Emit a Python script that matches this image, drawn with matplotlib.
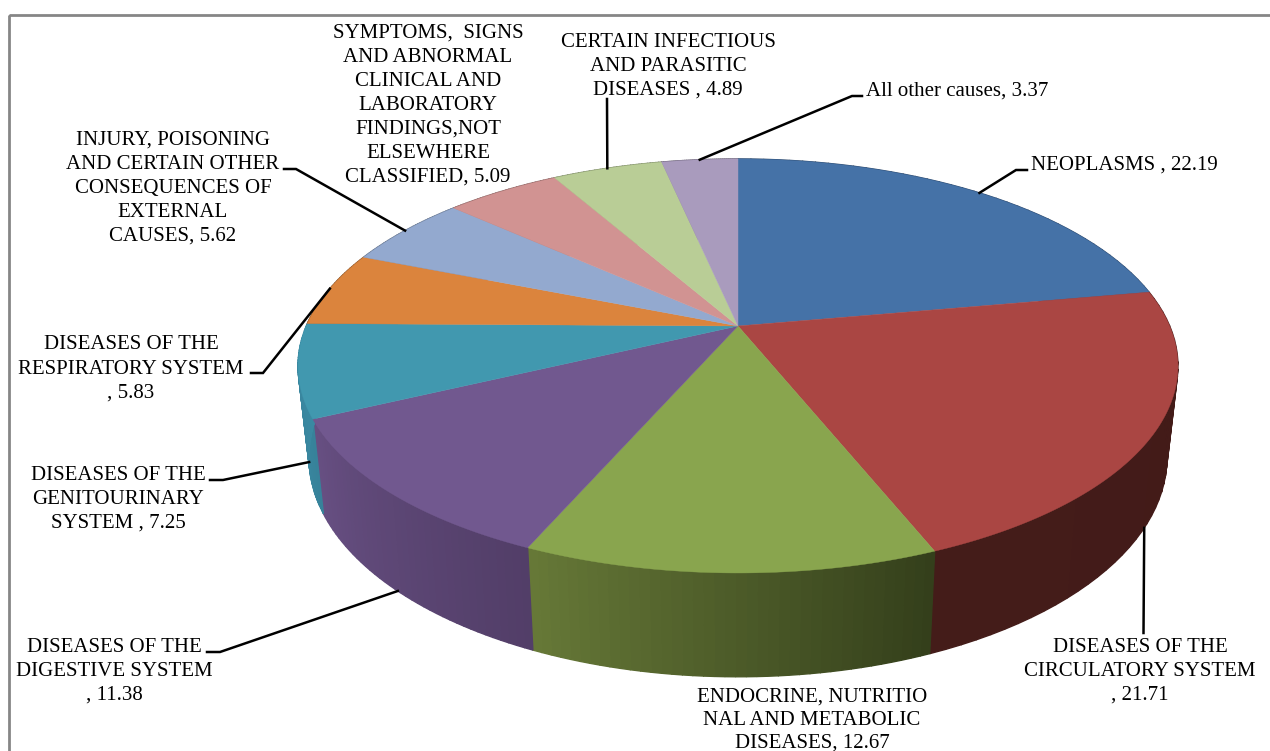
import numpy as np
import matplotlib
matplotlib.use('Agg')
import matplotlib.pyplot as plt
from matplotlib.colors import to_rgb
from matplotlib.patches import Polygon, Rectangle

# clockwise from 12 o'clock
categories = ['NEOPLASMS', 'DISEASES OF THE CIRCULATORY SYSTEM',
              'ENDOCRINE, NUTRITIONAL AND METABOLIC DISEASES',
              'DISEASES OF THE DIGESTIVE SYSTEM', 'DISEASES OF THE GENITOURINARY SYSTEM',
              'DISEASES OF THE RESPIRATORY SYSTEM',
              'INJURY, POISONING AND CERTAIN OTHER CONSEQUENCES OF EXTERNAL CAUSES',
              'SYMPTOMS, SIGNS AND ABNORMAL CLINICAL AND LABORATORY FINDINGS,NOT ELSEWHERE CLASSIFIED',
              'CERTAIN INFECTIOUS AND PARASITIC DISEASES', 'All other causes']
values = [22.19, 21.71, 12.67, 11.38, 7.25, 5.83, 5.62, 5.09, 4.89, 3.37]

label_lines = [
    ['NEOPLASMS , 22.19'],
    ['DISEASES OF THE', 'CIRCULATORY SYSTEM', ', 21.71'],
    ['ENDOCRINE, NUTRITIO', 'NAL AND METABOLIC', 'DISEASES, 12.67'],
    ['DISEASES OF THE', 'DIGESTIVE SYSTEM', ', 11.38'],
    ['DISEASES OF THE', 'GENITOURINARY', 'SYSTEM , 7.25'],
    ['DISEASES OF THE', 'RESPIRATORY SYSTEM', ', 5.83'],
    ['INJURY, POISONING', 'AND CERTAIN OTHER', 'CONSEQUENCES OF', 'EXTERNAL', 'CAUSES, 5.62'],
    ['SYMPTOMS,  SIGNS', 'AND ABNORMAL', 'CLINICAL AND', 'LABORATORY', 'FINDINGS,NOT', 'ELSEWHERE', 'CLASSIFIED, 5.09'],
    ['CERTAIN INFECTIOUS', 'AND PARASITIC', 'DISEASES , 4.89'],
    ['All other causes, 3.37'],
]

top_colors = ['#4572A7', '#AA4643', '#89A54E', '#71588F', '#4198AF',
              '#DB843D', '#93A9CF', '#D19392', '#B9CD96', '#A99BBD']
wall_left = ['#2B4668', '#441C19', '#667837', '#674F82', '#3B8AA3',
             '#8A5326', '#5C6B82', '#845D5C', '#75825F', '#6B6277']
wall_right = ['#2B4668', '#421A18', '#343F1B', '#523E68', '#37829A',
              '#8A5326', '#5C6B82', '#845D5C', '#75825F', '#6B6277']

# label placement, pixels: centre x, first baseline, line pitch
label_pos = [(1124.5, 170, 24), (1140, 652, 24), (812, 702, 23), (114, 652, 24), (118, 480, 24),
             (131, 349, 24.5), (173, 145, 24), (428, 38, 24), (668, 47, 24), (957, 96, 24)]
# leader route from the rim, None = no leader; rim 'low' = bottom edge of the wall
leaders = [('top', [(1016, 170), (1027, 170)]), ('low', [(1143.5, 633)]), None,
           ('low', [(220, 652), (207, 652)]), ('low', [(223, 480), (210, 480)]),
           ('top', [(263, 373), (251, 373)]), ('top', [(296, 169), (284, 169)]), None,
           ('top', [(607, 99)]), ('top', [(852, 96), (862, 96)])]

cx, cy = 738, 326


def rim(theta, low=False):
    # perspective view of the unit circle, theta clockwise from the top
    x, y = np.sin(theta), np.cos(theta)
    d = 1 + 0.193 * y
    X = 431.7 * x / d
    Y = -199.3 * y / d
    if low:
        X = X * 0.975
        Y = 89 + 1.06 * Y
    return cx + X, cy + Y


fig = plt.figure(figsize=(12.7, 7.51), dpi=100)
ax = fig.add_axes([0, 0, 1, 1])
ax.set_xlim(0, 1270)
ax.set_ylim(751, 0)
ax.axis('off')

ax.add_patch(Rectangle((8.5, 14.5), 1300, 800, fill=False, ec='#868686', lw=2))

edges = np.cumsum([0] + values) / sum(values) * 2 * np.pi

# side walls first, the top faces hide the back part
for i in range(len(values)):
    th = np.linspace(edges[i], edges[i + 1], 40)
    c0, c1 = np.array(to_rgb(wall_left[i])), np.array(to_rgb(wall_right[i]))
    for j in range(len(th) - 1):
        xa, ya = rim(th[j])
        xb, yb = rim(th[j + 1])
        xc, yc = rim(th[j + 1], True)
        xd, yd = rim(th[j], True)
        t = j / (len(th) - 2)
        # walls run right to left along the front, colours are given left to right
        col = c1 * (1 - t) + c0 * t
        ax.add_patch(Polygon([(xa, ya), (xb, yb), (xc, yc), (xd, yd)], closed=True,
                             fc=col, ec=col, lw=1.0, zorder=2))

for i in range(len(values)):
    th = np.linspace(edges[i], edges[i + 1], 200)
    xs, ys = rim(th)
    pts = [(cx, cy)] + list(zip(xs, ys))
    ax.add_patch(Polygon(pts, closed=True, fc=top_colors[i], ec=top_colors[i], lw=0.3, zorder=3))

for i, lead in enumerate(leaders):
    if lead is None:
        continue
    mid = (edges[i] + edges[i + 1]) / 2
    x0, y0 = rim(mid, lead[0] == 'low')
    route = [(x0, y0)] + lead[1]
    ax.plot([p[0] for p in route], [p[1] for p in route], color='black', lw=1.8,
            solid_joinstyle='miter', zorder=4)

for lines, (lx, ly, pitch) in zip(label_lines, label_pos):
    for n, line in enumerate(lines):
        ax.text(lx, ly + n * pitch, line, family='Liberation Serif', fontsize=15.05,
                ha='center', va='baseline', color='black', zorder=5)

fig.savefig('out.png', dpi=100)
